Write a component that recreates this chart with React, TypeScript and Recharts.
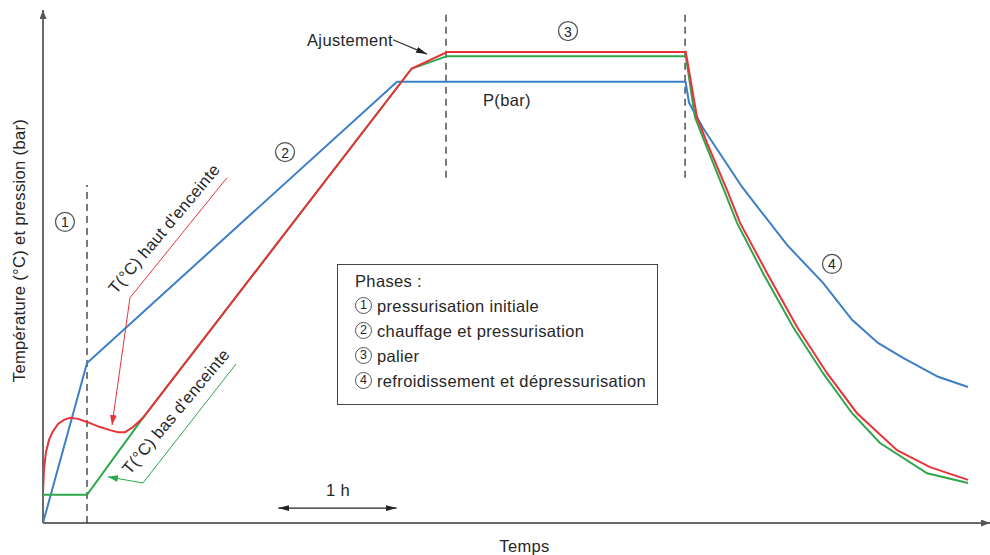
import React from 'react'
import { LineChart, Line, XAxis, YAxis, ReferenceLine, ReferenceDot, Legend } from 'recharts'

// temps en heures (1 h = flèche "1 h"), valeurs en % de la hauteur du graphe
const pressionT = [0, 0.373, 3.0, 5.445, 5.475, 5.593, 5.924, 6.305, 6.61, 6.856, 7.076, 7.288, 7.585, 7.839]
const pressionV = [0, 31.2, 86.0, 86.0, 81.9, 77.0, 65.5, 54.2, 46.8, 39.6, 35.1, 32.2, 28.5, 26.5]

const hautT = [0, 0.008, 0.025, 0.051, 0.085, 0.127, 0.178, 0.229, 0.297, 0.373, 0.483, 0.568, 0.636, 0.695, 0.763, 0.847, 3.125, 3.424, 5.447, 5.542, 5.627, 5.797, 5.907, 6.136, 6.39, 6.644, 6.898, 7.237, 7.517, 7.839]
const hautV = [6.0, 10.3, 13.8, 16.2, 17.9, 19.3, 20.1, 20.5, 20.3, 19.7, 18.7, 18.1, 17.7, 17.7, 18.7, 20.5, 88.6, 91.8, 91.8, 79.1, 74.1, 64.9, 58.5, 48.7, 38.2, 29.2, 21.4, 14.2, 10.9, 8.4]

const basT = [0, 0.373, 0.847, 3.125, 3.424, 5.447, 5.525, 5.61, 5.771, 5.881, 6.102, 6.356, 6.61, 6.856, 7.093, 7.492, 7.839]
const basV = [5.5, 5.5, 20.5, 88.6, 91.0, 91.0, 79.1, 74.1, 64.9, 58.5, 48.7, 38.2, 29.2, 21.4, 15.6, 9.7, 7.8]

// limites des phases
const phaseT = [0.373, 3.415, 5.441]
const phaseNums = ['1', '2', '3', '4']
const phaseNames = [
    'pressurisation initiale',
    'chauffage et pressurisation',
    'palier',
    'refroidissement et dépressurisation',
]

const X_MAX = 8.025
const Y_MAX = 100

const FONT = '"Liberation Sans", Arial, sans-serif'
const FS = 16.5
const LS = '0.35px'
const BLUE = '#3c7fc7'
const RED = '#e7333a'
const GREEN = '#2ea64c'
const TXT = '#262626'

const toPoints = (ts: number[], vs: number[]) => ts.map((t, i) => ({ t, v: vs[i] }))

const pression = toPoints(pressionT, pressionV)
const haut = toPoints(hautT, hautV)
const bas = toPoints(basT, basV)

const circled = (n: string) => (props: any) => (
    <g>
        <circle cx={props.cx} cy={props.cy} r={9.5} fill="none" stroke="#555" strokeWidth={1.3} />
        <text x={props.cx} y={props.cy + 0.5} textAnchor="middle" dominantBaseline="central" fontSize={14} fontFamily={FONT} fill={TXT}>
            {n}
        </text>
    </g>
)

const caption = (txt: string, angle = 0) => (props: any) => (
    <text
        x={props.cx}
        y={props.cy}
        textAnchor="middle"
        dominantBaseline="central"
        fontSize={FS}
        fontFamily={FONT}
        fill={TXT}
        style={{ letterSpacing: LS }}
        transform={angle ? `rotate(${angle} ${props.cx} ${props.cy})` : undefined}
    >
        {txt}
    </text>
)

const axisTitle = (txt: string, angle: number, dx: number, dy: number) => (props: any) => {
    const { x, y, width, height } = props.viewBox
    const cx = x + width / 2 + dx
    const cy = y + height / 2 + dy
    return (
        <text
            x={cx}
            y={cy}
            textAnchor="middle"
            dominantBaseline="central"
            fontSize={FS}
            fontFamily={FONT}
            fill={TXT}
            style={{ letterSpacing: LS }}
            transform={angle ? `rotate(${angle} ${cx} ${cy})` : undefined}
        >
            {txt}
        </text>
    )
}

const arrowMarker = (id: string, color: string, w = 10, h = 7) => (
    <marker id={id} viewBox={`0 0 ${w} ${h}`} refX={w} refY={h / 2} markerWidth={w} markerHeight={h} markerUnits="userSpaceOnUse" orient="auto-start-reverse">
        <path d={`M0,0 L${w},${h / 2} L0,${h} z`} fill={color} />
    </marker>
)

const SmallCircle = ({ n }: { n: string }) => (
    <span
        style={{
            display: 'inline-flex',
            alignItems: 'center',
            justifyContent: 'center',
            boxSizing: 'border-box',
            width: 17,
            height: 17,
            border: '1.3px solid #555',
            borderRadius: '50%',
            fontSize: 12.5,
            letterSpacing: 0,
            marginRight: 5,
            verticalAlign: 'middle',
            position: 'relative',
            top: -2,
        }}
    >
        {n}
    </span>
)

const PhasesBox = () => (
    <div
        style={{
            boxSizing: 'border-box',
            width: 321,
            height: 141,
            border: '1.5px solid #444',
            background: '#fff',
            padding: '4px 0 0 17px',
            fontFamily: FONT,
            fontSize: FS,
            letterSpacing: LS,
            lineHeight: '25px',
            color: TXT,
        }}
    >
        <div>Phases :</div>
        {phaseNames.map((name, i) => (
            <div key={name} style={{ whiteSpace: 'nowrap' }}>
                <SmallCircle n={phaseNums[i]} />
                {name}
            </div>
        ))}
    </div>
)

const App = () => {
    return (
        <div style={{ position: 'absolute', left: 0, top: 0, background: '#fff' }}>
            <LineChart width={990} height={555} margin={{ top: 10, right: 0, bottom: 0, left: 0 }}>
                <defs>
                    {arrowMarker('fl-axe', '#555', 9, 7)}
                    {arrowMarker('fl-noir', '#222', 11, 6)}
                    {arrowMarker('fl-rouge', RED, 10, 7)}
                    {arrowMarker('fl-vert', GREEN, 10, 7)}
                </defs>
                <XAxis
                    type="number"
                    dataKey="t"
                    domain={[0, X_MAX]}
                    allowDataOverflow
                    tick={false}
                    tickLine={false}
                    axisLine={false}
                    height={32}
                    label={{ content: axisTitle('Temps', 0, 8, 7) }}
                />
                <YAxis
                    type="number"
                    dataKey="v"
                    domain={[0, Y_MAX]}
                    allowDataOverflow
                    tick={false}
                    tickLine={false}
                    axisLine={false}
                    width={43}
                    label={{ content: axisTitle('Température (°C) et pression (bar)', -90, -3, -16) }}
                />

                {/* axes avec flèches */}
                <ReferenceLine segment={[{ x: 0, y: 0 }, { x: 0, y: Y_MAX }]} stroke="#6a6a6a" strokeWidth={2} markerEnd="url(#fl-axe)" ifOverflow="visible" />
                <ReferenceLine segment={[{ x: 0, y: 0 }, { x: X_MAX, y: 0 }]} stroke="#6a6a6a" strokeWidth={2} markerEnd="url(#fl-axe)" ifOverflow="visible" />

                {/* limites des phases */}
                <ReferenceLine segment={[{ x: phaseT[0], y: 0 }, { x: phaseT[0], y: 65.9 }]} stroke="#333" strokeWidth={1.3} strokeDasharray="7 5" ifOverflow="visible" />
                <ReferenceLine segment={[{ x: phaseT[1], y: 67.3 }, { x: phaseT[1], y: 99.6 }]} stroke="#333" strokeWidth={1.3} strokeDasharray="7 5" ifOverflow="visible" />
                <ReferenceLine segment={[{ x: phaseT[2], y: 67.3 }, { x: phaseT[2], y: 100 }]} stroke="#333" strokeWidth={1.3} strokeDasharray="7 5" ifOverflow="visible" />

                <Line data={pression} dataKey="v" type="linear" stroke={BLUE} strokeWidth={2} dot={false} activeDot={false} isAnimationActive={false} />
                <Line data={bas} dataKey="v" type="linear" stroke={GREEN} strokeWidth={2} dot={false} activeDot={false} isAnimationActive={false} />
                <Line data={haut} dataKey="v" type="linear" stroke={RED} strokeWidth={2} dot={false} activeDot={false} isAnimationActive={false} />

                {/* numéros de phase */}
                <ReferenceDot x={0.186} y={58.7} r={0} ifOverflow="visible" shape={circled(phaseNums[0])} />
                <ReferenceDot x={2.051} y={72.3} r={0} ifOverflow="visible" shape={circled(phaseNums[1])} />
                <ReferenceDot x={4.449} y={95.9} r={0} ifOverflow="visible" shape={circled(phaseNums[2])} />
                <ReferenceDot x={6.686} y={50.5} r={0} ifOverflow="visible" shape={circled(phaseNums[3])} />

                {/* annotations */}
                <ReferenceDot x={2.602} y={94.2} r={0} ifOverflow="visible" shape={caption('Ajustement')} />
                <ReferenceLine segment={[{ x: 2.966, y: 94.2 }, { x: 3.254, y: 91.4 }]} stroke="#333" strokeWidth={1.2} markerEnd="url(#fl-noir)" ifOverflow="visible" />
                <ReferenceDot x={3.932} y={82.5} r={0} ifOverflow="visible" shape={caption('P(bar)')} />

                <ReferenceDot x={1.024} y={57.4} r={0} ifOverflow="visible" shape={caption("T(°C) haut d'enceinte", -50)} />
                <ReferenceLine segment={[{ x: 1.559, y: 67.3 }, { x: 0.737, y: 43.9 }]} stroke={RED} strokeWidth={1} ifOverflow="visible" />
                <ReferenceLine segment={[{ x: 0.737, y: 43.9 }, { x: 0.585, y: 19.1 }]} stroke={RED} strokeWidth={1} markerEnd="url(#fl-rouge)" ifOverflow="visible" />

                <ReferenceDot x={1.124} y={21.8} r={0} ifOverflow="visible" shape={caption("T(°C) bas d'enceinte", -50)} />
                <ReferenceLine segment={[{ x: 1.636, y: 31.0 }, { x: 0.847, y: 7.8 }]} stroke={GREEN} strokeWidth={1} ifOverflow="visible" />
                <ReferenceLine segment={[{ x: 0.847, y: 7.8 }, { x: 0.551, y: 9.0 }]} stroke={GREEN} strokeWidth={1} markerEnd="url(#fl-vert)" ifOverflow="visible" />

                <ReferenceDot x={2.5} y={6.4} r={0} ifOverflow="visible" shape={caption('1 h')} />
                <ReferenceLine segment={[{ x: 1.994, y: 2.9 }, { x: 2.997, y: 2.9 }]} stroke="#222" strokeWidth={1.2} markerStart="url(#fl-noir)" markerEnd="url(#fl-noir)" ifOverflow="visible" />

                <Legend verticalAlign="middle" align="center" layout="horizontal" wrapperStyle={{ left: 337, top: 264, width: 321, height: 141 }} content={() => <PhasesBox />} />
            </LineChart>
        </div>
    )
}

export default App
